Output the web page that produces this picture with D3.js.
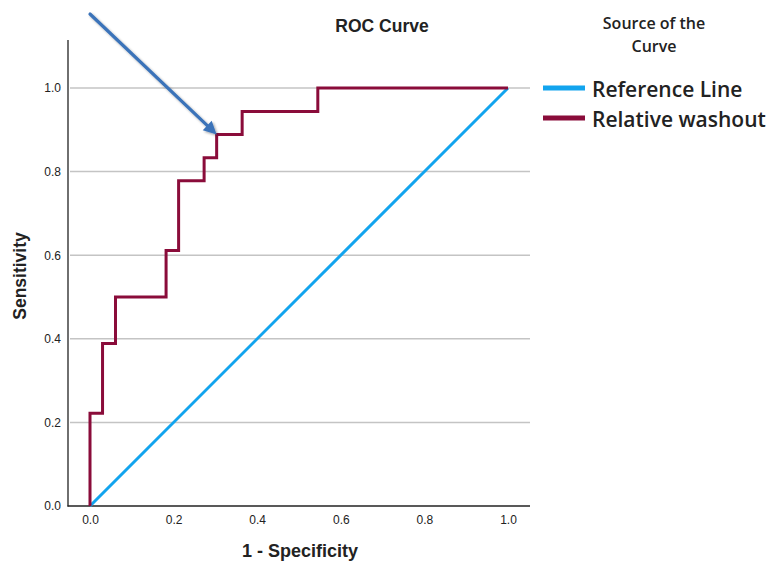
<!DOCTYPE html>
<html><head><meta charset="utf-8">
<script src="https://cdn.jsdelivr.net/npm/d3@7"></script>
<style>body{margin:0;background:#fff}svg{display:block}</style>
</head><body>
<svg id="c" width="769" height="562"></svg>
<script>
// ROC curve: 1 - Specificity (x) and Sensitivity (y)
const rocFpr = [0, 0, 0.030, 0.030, 0.061, 0.061, 0.182, 0.182, 0.212, 0.212, 0.273, 0.273, 0.303, 0.303, 0.364, 0.364, 0.545, 0.545, 1.0];
const rocTpr = [0, 0.222, 0.222, 0.389, 0.389, 0.500, 0.500, 0.611, 0.611, 0.778, 0.778, 0.833, 0.833, 0.889, 0.889, 0.944, 0.944, 1.0, 1.0];
const refFpr = [0, 1];
const refTpr = [0, 1];
const xTicks = [0, 0.2, 0.4, 0.6, 0.8, 1.0];
const yTicks = [0, 0.2, 0.4, 0.6, 0.8, 1.0];
const seriesNames = ["Reference Line", "Relative washout"];
const seriesColors = ["#12a4ee", "#8a0c3a"];
const legendTitle = ["Source of the", "Curve"];
const arrowFrom = [0.0, 1.177];
const arrowTo = [0.303, 0.889];

const svg = d3.select("#c");
const x = d3.scaleLinear().domain([0, 1]).range([90, 508]);
const y = d3.scaleLinear().domain([0, 1]).range([506, 88]);

// gridlines
svg.append("g").selectAll("line").data(yTicks.filter(d => d > 0)).join("line")
  .attr("x1", 70).attr("x2", 530).attr("y1", d => y(d)).attr("y2", d => y(d))
  .attr("stroke", "#c4c4c4").attr("stroke-width", 1.5);

// axes
const font = "'Liberation Sans', Arial, sans-serif";
const xAxis = d3.axisBottom(x).tickValues(xTicks).tickFormat(d3.format(".1f")).tickSize(0).tickPadding(9);
const gx = svg.append("g").attr("transform", "translate(0,506)").call(xAxis);
gx.select(".domain").remove();
gx.selectAll("text").attr("font-family", font).attr("font-size", 12).attr("fill", "#222");
const yAxis = d3.axisLeft(y).tickValues(yTicks).tickFormat(d3.format(".1f")).tickSize(0).tickPadding(7);
const gy = svg.append("g").attr("transform", "translate(68,0)").call(yAxis);
gy.select(".domain").remove();
gy.selectAll("text").attr("font-family", font).attr("font-size", 12).attr("fill", "#222");

svg.append("line").attr("x1", 68).attr("x2", 68).attr("y1", 40).attr("y2", 506.5).attr("stroke", "#222").attr("stroke-width", 1.3);
svg.append("line").attr("x1", 67.5).attr("x2", 530).attr("y1", 506).attr("y2", 506).attr("stroke", "#222").attr("stroke-width", 1.3);

const line = d3.line().x(d => x(d[0])).y(d => y(d[1]));
svg.append("path").datum(refFpr.map((d, i) => [d, refTpr[i]])).attr("d", line)
  .attr("fill", "none").attr("stroke", seriesColors[0]).attr("stroke-width", 3);
svg.append("path").datum(rocFpr.map((d, i) => [d, rocTpr[i]])).attr("d", line)
  .attr("fill", "none").attr("stroke", seriesColors[1]).attr("stroke-width", 3).attr("stroke-linejoin", "miter");

// arrow annotation
const defs = svg.append("defs");
const f = defs.append("filter").attr("id", "sh").attr("x", "-20%").attr("y", "-20%").attr("width", "140%").attr("height", "140%");
f.append("feDropShadow").attr("dx", 1.5).attr("dy", 1.5).attr("stdDeviation", 1.2).attr("flood-color", "#000").attr("flood-opacity", 0.35);
const ax0 = x(arrowFrom[0]), ay0 = y(arrowFrom[1]), ax1 = x(arrowTo[0]), ay1 = y(arrowTo[1]);
const ang = Math.atan2(ay1 - ay0, ax1 - ax0);
const hl = 13, hw = 6.5;
const bx = ax1 - hl * Math.cos(ang), by = ay1 - hl * Math.sin(ang);
const ga = svg.append("g").attr("filter", "url(#sh)");
ga.append("line").attr("x1", ax0).attr("y1", ay0).attr("x2", bx + 2 * Math.cos(ang)).attr("y2", by + 2 * Math.sin(ang))
  .attr("stroke", "#3b73b9").attr("stroke-width", 3.2).attr("stroke-linecap", "round");
ga.append("path").attr("d", `M${ax1},${ay1} L${bx - hw * Math.sin(ang)},${by + hw * Math.cos(ang)} L${bx + hw * Math.sin(ang)},${by - hw * Math.cos(ang)} Z`)
  .attr("fill", "#3b73b9");

// titles
svg.append("text").attr("x", 382).attr("y", 32).attr("text-anchor", "middle")
  .attr("font-family", font).attr("font-weight", "bold").attr("font-size", 17.5).attr("fill", "#222").text("ROC Curve");
svg.append("text").attr("x", 300).attr("y", 557).attr("text-anchor", "middle")
  .attr("font-family", font).attr("font-weight", "bold").attr("font-size", 18).attr("fill", "#222").text("1 - Specificity");
svg.append("text").attr("transform", "translate(26,276) rotate(-90)").attr("text-anchor", "middle")
  .attr("font-family", font).attr("font-weight", "bold").attr("font-size", 17.5).attr("fill", "#222").text("Sensitivity");

// legend
const lf = "'Open Sans', sans-serif";
const lt = svg.append("text").attr("text-anchor", "middle")
  .attr("font-family", lf).attr("font-weight", 600).attr("font-size", 16).attr("fill", "#222");
lt.selectAll("tspan").data(legendTitle).join("tspan")
  .attr("x", 654).attr("y", (d, i) => 29 + i * 22.5).text(d => d);
const lg = svg.append("g").selectAll("g").data(seriesNames).join("g")
  .attr("transform", (d, i) => `translate(0,${88 + i * 30})`);
lg.append("line").attr("x1", 543).attr("x2", 585).attr("y1", 0).attr("y2", 0)
  .attr("stroke", (d, i) => seriesColors[i]).attr("stroke-width", 5);
lg.append("text").attr("x", 592).attr("y", 9).attr("font-family", lf).attr("font-weight", 600)
  .attr("font-size", 21).attr("fill", "#222").text(d => d);
</script>
</body></html>
